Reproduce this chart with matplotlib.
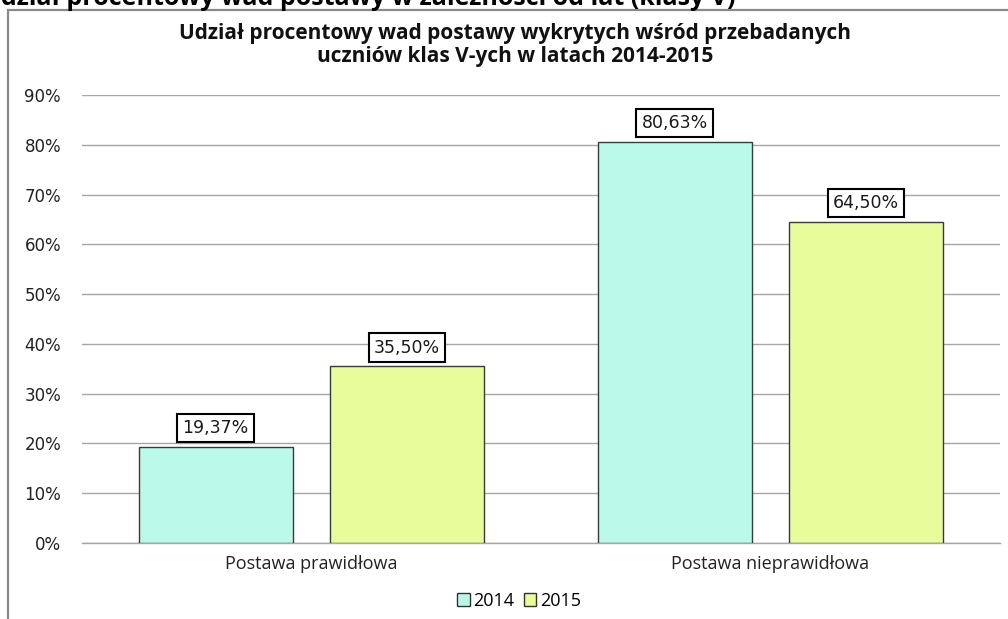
import matplotlib

matplotlib.use("Agg")
import matplotlib.pyplot as plt  # noqa: E402
import numpy as np  # noqa: E402
from matplotlib.patches import Rectangle  # noqa: E402

categories = ["Postawa prawidłowa", "Postawa nieprawidłowa"]
years = ["2014", "2015"]
values_2014 = [19.37, 80.63]
values_2015 = [35.50, 64.50]
yticks = [0, 10, 20, 30, 40, 50, 60, 70, 80, 90]

colors = {"2014": "#BBF9E8", "2015": "#E8FC9C"}
TXT = "Open Sans"

fig = plt.figure(figsize=(10.08, 6.19), dpi=100)
ax = fig.add_axes([0.0813, 0.1228, 0.9107, 0.7237])

x = np.arange(len(categories))
width = 0.335
offset = 0.2085
series = [values_2014, values_2015]
for i, (year, vals) in enumerate(zip(years, series)):
    bars = ax.bar(
        x + (i - 0.5) * 2 * offset,
        vals,
        width,
        color=colors[year],
        edgecolor="#3a3a3a",
        linewidth=1.0,
        label=year,
        zorder=3,
    )
    for b, v in zip(bars, vals):
        ax.annotate(
            f"{v:.2f}%".replace(".", ","),
            (b.get_x() + b.get_width() / 2, v),
            xytext=(0, 7),
            textcoords="offset points",
            ha="center",
            va="bottom",
            fontsize=12.5,
            family="DejaVu Sans",
            color="#1a1a1a",
            bbox=dict(boxstyle="square,pad=0.3", fc="white", ec="black", lw=1.5),
            zorder=4,
        )

ax.set_xlim(-0.5, 1.5)
ax.set_ylim(0, 90)
ax.set_yticks(yticks)
ax.set_yticklabels([f"{t}%" for t in yticks], fontsize=12, family="DejaVu Sans",
                   color="#222222")
ax.set_xticks(x)
ax.set_xticklabels(categories, fontsize=13, family=TXT, color="#222222")
ax.tick_params(axis="both", length=0)
ax.tick_params(axis="y", pad=15)
ax.tick_params(axis="x", pad=9)
ax.grid(axis="y", color="#a6a6a6", linewidth=1.0, zorder=0)
for side in ("left", "right", "top"):
    ax.spines[side].set_visible(False)
ax.spines["bottom"].set_color("#a6a6a6")
ax.spines["bottom"].set_linewidth(1.0)

leg = fig.legend(
    loc="center",
    bbox_to_anchor=(0.515, 0.029),
    ncol=2,
    frameon=False,
    prop={"family": TXT, "size": 13},
    handlelength=0.7,
    handleheight=0.7,
    handletextpad=0.2,
    columnspacing=0.5,
)
for h in leg.legend_handles:
    h.set_edgecolor("#333333")

fig.text(
    0.511, 0.927,
    "Udział procentowy wad postawy wykrytych wśród przebadanych\n"
    "uczniów klas V-ych w latach 2014-2015",
    ha="center", va="center", fontsize=15, fontweight="bold", family=TXT,
    linespacing=1.12, color="#111111",
)

# chart frame (extends past the right and bottom edges of the image)
fig.add_artist(Rectangle((8 / 1008, -0.1), 1.2, 1 - 10 / 619 + 0.1,
                         transform=fig.transFigure, fill=False,
                         ec="#8a8a8a", lw=1.6))

# clipped heading above the chart
fig.text(735 / 1008, 1 - 5 / 619,
         "Udział procentowy wad postawy w zależności od lat (klasy V)",
         ha="right", va="baseline", fontsize=18, fontweight="bold",
         family=TXT, color="#000000")

fig.savefig("out.png", dpi=100)
